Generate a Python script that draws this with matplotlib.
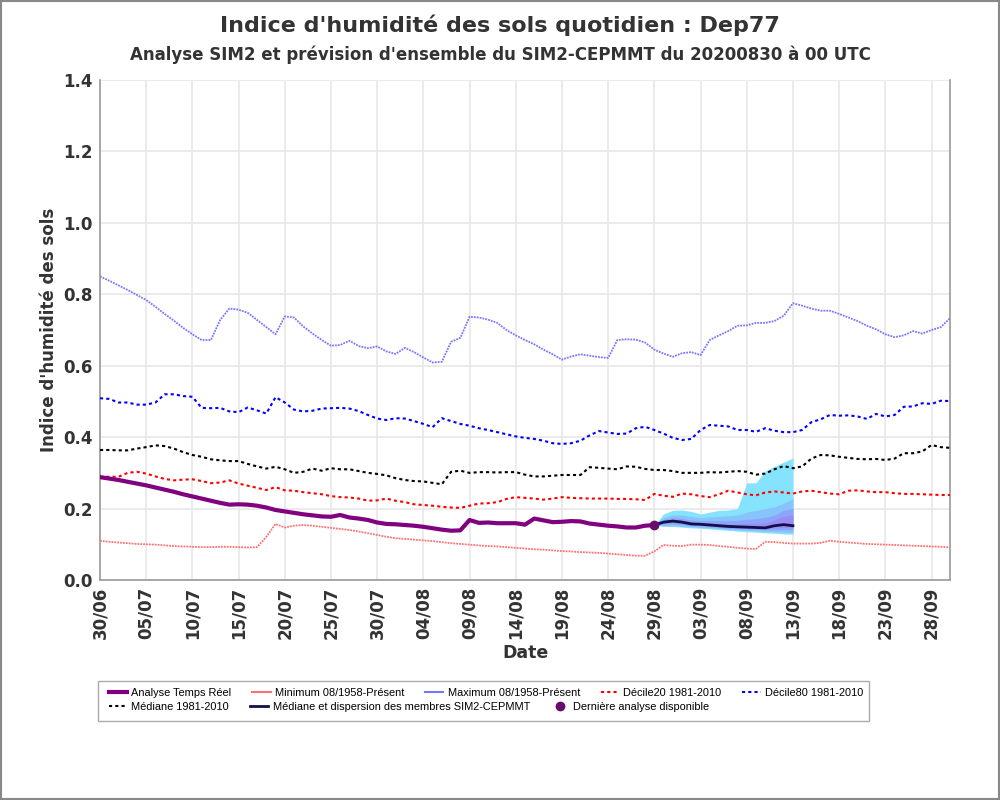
import numpy as np
import pandas as pd
import matplotlib
matplotlib.use("Agg")
import matplotlib.pyplot as plt
import matplotlib.dates as mdates
from matplotlib.lines import Line2D
from matplotlib.patches import Rectangle

# ---------------- data ----------------
start_date = "2020-06-30"
n_days = 93
last_analysis_index = 60
forecast_len = 16

maximum = [0.850, 0.838, 0.825, 0.812, 0.798, 0.784, 0.765, 0.745, 0.726, 0.706,
           0.688, 0.672, 0.672, 0.728, 0.760, 0.757, 0.748, 0.728, 0.708, 0.688,
           0.738, 0.735, 0.710, 0.690, 0.672, 0.656, 0.658, 0.670, 0.655, 0.649,
           0.654, 0.640, 0.633, 0.650, 0.638, 0.623, 0.609, 0.611, 0.667, 0.678,
           0.737, 0.735, 0.729, 0.720, 0.700, 0.685, 0.672, 0.660, 0.645, 0.632,
           0.617, 0.626, 0.632, 0.628, 0.624, 0.622, 0.672, 0.674, 0.673, 0.665,
           0.645, 0.634, 0.625, 0.635, 0.638, 0.630, 0.672, 0.685, 0.697, 0.712,
           0.713, 0.720, 0.720, 0.725, 0.740, 0.775, 0.768, 0.760, 0.754, 0.754,
           0.745, 0.735, 0.725, 0.712, 0.702, 0.688, 0.680, 0.685, 0.697, 0.690,
           0.700, 0.708, 0.733]

decile80 = [0.509, 0.507, 0.497, 0.497, 0.491, 0.491, 0.497, 0.520, 0.520, 0.515,
            0.513, 0.482, 0.481, 0.482, 0.472, 0.470, 0.483, 0.475, 0.466, 0.512,
            0.497, 0.477, 0.472, 0.474, 0.480, 0.481, 0.482, 0.480, 0.473, 0.462,
            0.452, 0.448, 0.453, 0.452, 0.445, 0.437, 0.428, 0.453, 0.445, 0.437,
            0.432, 0.425, 0.420, 0.414, 0.408, 0.402, 0.398, 0.395, 0.390, 0.383,
            0.381, 0.383, 0.390, 0.405, 0.417, 0.413, 0.409, 0.410, 0.425, 0.429,
            0.420, 0.410, 0.398, 0.392, 0.395, 0.420, 0.434, 0.432, 0.430, 0.420,
            0.420, 0.415, 0.425, 0.418, 0.414, 0.414, 0.420, 0.442, 0.450, 0.462,
            0.460, 0.461, 0.458, 0.451, 0.465, 0.458, 0.462, 0.485, 0.486, 0.495,
            0.493, 0.502, 0.501]

median_clim = [0.364, 0.364, 0.363, 0.363, 0.368, 0.372, 0.377, 0.375, 0.368, 0.358,
               0.350, 0.345, 0.338, 0.335, 0.333, 0.333, 0.325, 0.318, 0.312, 0.317,
               0.310, 0.300, 0.303, 0.312, 0.306, 0.313, 0.310, 0.310, 0.305, 0.300,
               0.297, 0.293, 0.285, 0.280, 0.277, 0.276, 0.272, 0.268, 0.303, 0.306,
               0.300, 0.302, 0.302, 0.301, 0.302, 0.302, 0.295, 0.290, 0.290, 0.292,
               0.294, 0.294, 0.294, 0.316, 0.314, 0.312, 0.310, 0.318, 0.317, 0.311,
               0.308, 0.308, 0.305, 0.300, 0.300, 0.300, 0.302, 0.301, 0.303, 0.305,
               0.303, 0.295, 0.298, 0.310, 0.319, 0.313, 0.318, 0.340, 0.350, 0.349,
               0.345, 0.342, 0.339, 0.338, 0.339, 0.336, 0.340, 0.355, 0.355, 0.360,
               0.378, 0.372, 0.370]

decile20 = [0.289, 0.289, 0.289, 0.300, 0.303, 0.298, 0.290, 0.283, 0.279, 0.281,
            0.282, 0.277, 0.271, 0.273, 0.279, 0.270, 0.264, 0.258, 0.252, 0.260,
            0.251, 0.250, 0.246, 0.243, 0.240, 0.235, 0.232, 0.231, 0.228, 0.222,
            0.223, 0.228, 0.222, 0.218, 0.212, 0.210, 0.208, 0.205, 0.203, 0.202,
            0.208, 0.214, 0.215, 0.218, 0.227, 0.232, 0.230, 0.228, 0.225, 0.228,
            0.232, 0.230, 0.229, 0.228, 0.228, 0.228, 0.227, 0.227, 0.226, 0.224,
            0.241, 0.236, 0.233, 0.242, 0.240, 0.235, 0.232, 0.240, 0.250, 0.245,
            0.240, 0.237, 0.245, 0.248, 0.245, 0.242, 0.248, 0.250, 0.246, 0.242,
            0.240, 0.250, 0.251, 0.248, 0.246, 0.246, 0.243, 0.241, 0.241, 0.240,
            0.239, 0.238, 0.238]

minimum = [0.110, 0.107, 0.105, 0.103, 0.101, 0.100, 0.099, 0.097, 0.095, 0.094,
           0.093, 0.092, 0.092, 0.093, 0.093, 0.092, 0.091, 0.092, 0.121, 0.157,
           0.147, 0.152, 0.154, 0.152, 0.149, 0.146, 0.143, 0.140, 0.136, 0.131,
           0.126, 0.121, 0.117, 0.115, 0.113, 0.111, 0.109, 0.106, 0.103, 0.101,
           0.099, 0.097, 0.095, 0.094, 0.092, 0.090, 0.088, 0.086, 0.085, 0.083,
           0.081, 0.080, 0.078, 0.077, 0.076, 0.074, 0.072, 0.070, 0.068, 0.068,
           0.080, 0.098, 0.096, 0.095, 0.099, 0.099, 0.098, 0.095, 0.093, 0.090,
           0.088, 0.087, 0.107, 0.106, 0.104, 0.102, 0.102, 0.102, 0.104, 0.110,
           0.107, 0.105, 0.103, 0.101, 0.100, 0.099, 0.098, 0.097, 0.096, 0.095,
           0.094, 0.093, 0.091]

analyse_temps_reel = [0.288, 0.284, 0.280, 0.275, 0.270, 0.265, 0.259, 0.253, 0.247, 0.240,
                      0.234, 0.228, 0.222, 0.216, 0.211, 0.212, 0.211, 0.208, 0.203, 0.196,
                      0.192, 0.188, 0.184, 0.181, 0.178, 0.177, 0.182, 0.175, 0.172, 0.168,
                      0.161, 0.157, 0.156, 0.154, 0.152, 0.149, 0.145, 0.141, 0.138, 0.139,
                      0.168, 0.160, 0.161, 0.159, 0.159, 0.159, 0.155, 0.172, 0.167, 0.162,
                      0.163, 0.165, 0.164, 0.158, 0.155, 0.152, 0.150, 0.147, 0.147, 0.152,
                      0.154]

# ensemble forecast (29/08 -> 13/09)
ens_median = [0.154, 0.162, 0.165, 0.162, 0.157, 0.156, 0.154, 0.152, 0.150, 0.149,
              0.148, 0.147, 0.146, 0.152, 0.155, 0.152]
ens_max = [0.154, 0.185, 0.195, 0.196, 0.192, 0.185, 0.190, 0.195, 0.196, 0.200,
           0.272, 0.272, 0.305, 0.318, 0.330, 0.342]
ens_min = [0.154, 0.150, 0.150, 0.148, 0.146, 0.145, 0.143, 0.141, 0.139, 0.137,
           0.135, 0.134, 0.132, 0.131, 0.129, 0.128]
ens_q90 = [0.154, 0.175, 0.182, 0.182, 0.178, 0.175, 0.177, 0.178, 0.180, 0.182,
           0.190, 0.195, 0.200, 0.205, 0.215, 0.228]
ens_q10 = [0.154, 0.152, 0.152, 0.150, 0.149, 0.147, 0.146, 0.144, 0.142, 0.140,
           0.139, 0.137, 0.136, 0.135, 0.134, 0.133]
ens_q75 = [0.154, 0.170, 0.175, 0.173, 0.168, 0.166, 0.166, 0.166, 0.166, 0.167,
           0.170, 0.172, 0.175, 0.182, 0.195, 0.200]
ens_q25 = [0.154, 0.157, 0.158, 0.155, 0.152, 0.151, 0.149, 0.147, 0.145, 0.144,
           0.143, 0.142, 0.141, 0.141, 0.141, 0.140]
ens_q60 = [0.154, 0.167, 0.170, 0.167, 0.162, 0.160, 0.159, 0.158, 0.157, 0.157,
           0.158, 0.158, 0.160, 0.168, 0.178, 0.182]
ens_q40 = [0.154, 0.159, 0.161, 0.158, 0.154, 0.153, 0.151, 0.149, 0.147, 0.146,
           0.145, 0.144, 0.143, 0.146, 0.147, 0.146]

labels = ["Analyse Temps Réel", "Minimum 08/1958-Présent", "Maximum 08/1958-Présent",
          "Décile20 1981-2010", "Décile80 1981-2010", "Médiane 1981-2010",
          "Médiane et dispersion des membres SIM2-CEPMMT", "Dernière analyse disponible"]

# ---------------- plot ----------------
dates = pd.date_range(start_date, periods=n_days, freq="D")
d_an = dates[:len(analyse_temps_reel)]
d_fc = dates[last_analysis_index:last_analysis_index + forecast_len]

txt = "#333333"
fig = plt.figure(figsize=(10, 8), dpi=100)
ax = fig.add_axes([0.1, 0.275, 0.85, 0.625])

c_max = "#7676ff"
c_min = "#ff7070"
ax.plot(dates, maximum, color=c_max, lw=1.3, ls=(0, (1, 0.6)), zorder=3)
ax.plot(dates, minimum, color=c_min, lw=1.3, ls=(0, (1, 0.6)), zorder=3)
ax.plot(dates, decile80, color="#0000ff", lw=1.5, ls=(0, (1.5, 1.5)), zorder=3)
ax.plot(dates, decile20, color="#ff0000", lw=1.5, ls=(0, (1.5, 1.5)), zorder=3)
ax.plot(dates, median_clim, color="#000000", lw=1.5, ls=(0, (1.5, 1.5)), zorder=3)

ax.fill_between(d_fc, ens_min, ens_max, color="#86e3fe", lw=0, zorder=2)
ax.fill_between(d_fc, ens_q10, ens_q90, color="#88c4fc", lw=0, zorder=2)
ax.fill_between(d_fc, ens_q25, ens_q75, color="#8ea4fa", lw=0, zorder=2)
ax.fill_between(d_fc, ens_q40, ens_q60, color="#9a8cf2", lw=0, zorder=2)
ax.plot(d_fc, ens_median, color="#10104a", lw=2, zorder=4)

ax.plot(d_an, analyse_temps_reel, color="#800080", lw=3, zorder=5)
ax.plot([dates[last_analysis_index]], [analyse_temps_reel[last_analysis_index]], "o",
        color="#6a0a6a", ms=6, zorder=6)

ax.set_xlim(dates[0], dates[-1])
ax.set_ylim(0, 1.4)
ax.set_yticks(np.arange(0, 1.41, 0.2))
ax.yaxis.set_major_formatter(matplotlib.ticker.FormatStrFormatter("%.1f"))
ax.set_xticks(dates[::5][:19])
ax.xaxis.set_major_formatter(mdates.DateFormatter("%d/%m"))
for lab in ax.get_xticklabels():
    lab.set_rotation(90)
ax.tick_params(axis="both", length=0, colors=txt, labelsize=12, pad=5)
for lab in ax.get_xticklabels() + ax.get_yticklabels():
    lab.set_fontweight("bold")
ax.grid(True, color="#e8e8e8", lw=1.2)
ax.set_axisbelow(True)
for s in ["left", "bottom", "right"]:
    ax.spines[s].set_color("#9a9a9a")
    ax.spines[s].set_linewidth(1.2)
ax.spines["top"].set_visible(False)

ax.set_ylabel("Indice d'humidité des sols", fontsize=12, fontweight="bold", color=txt, labelpad=4)
ax.set_xlabel("Date", fontsize=12.5, fontweight="bold", color=txt, labelpad=3)

fig.text(0.5, 0.969, "Indice d'humidité des sols quotidien : Dep77", ha="center", va="center",
         fontsize=16, fontweight="bold", color=txt)
fig.text(0.5, 0.932, "Analyse SIM2 et prévision d'ensemble du SIM2-CEPMMT du 20200830 à 00 UTC",
         ha="center", va="center", fontsize=12, fontweight="bold", color=txt)

# legend
h = [Line2D([], [], color="#800080", lw=3),
     Line2D([], [], color=c_min, lw=1.5),
     Line2D([], [], color=c_max, lw=1.5),
     Line2D([], [], color="#ff0000", lw=1.5, ls=(0, (1.5, 1.5))),
     Line2D([], [], color="#0000ff", lw=1.5, ls=(0, (1.5, 1.5))),
     Line2D([], [], color="#000000", lw=1.5, ls=(0, (1.5, 1.5))),
     Line2D([], [], color="#10104a", lw=2),
     Line2D([], [], color="#6a0a6a", marker="o", ls="none", ms=6)]
lp = dict(frameon=False, handlelength=1.65, handletextpad=0.4,
          columnspacing=1.9, borderaxespad=0, borderpad=0,
          prop={"family": "Liberation Sans", "size": 7.9})
l1 = fig.legend(h[:5], labels[:5], loc="center left", bbox_to_anchor=(0.109, 0.134), ncol=5, **lp)
l2 = fig.legend(h[5:], labels[5:], loc="center left", bbox_to_anchor=(0.109, 0.116), ncol=3, **lp)
fig.add_artist(Rectangle((0.098, 0.09875), 0.771, 0.05, transform=fig.transFigure,
                         fill=False, edgecolor="#aaaaaa", lw=1))
fig.add_artist(Rectangle((0.0005, 0.0008), 0.998, 0.998, transform=fig.transFigure,
                         fill=False, edgecolor="#888888", lw=1.5))

fig.savefig("out.png", dpi=100)
